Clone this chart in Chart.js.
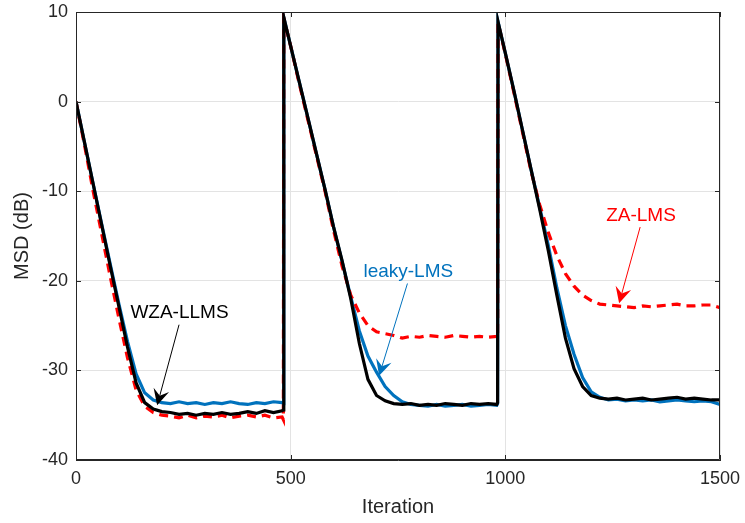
<!DOCTYPE html>
<html>
<head>
<meta charset="utf-8">
<script src="https://cdn.jsdelivr.net/npm/chart.js@4.4.0/dist/chart.umd.min.js"></script>
<style>
  html, body { margin: 0; padding: 0; background: #fff; }
</style>
</head>
<body>
<canvas id="chart" width="745" height="523"></canvas>
<script>
// iteration index shared by all three curves (jumps at 483/484 and 982/983)
const iterations = [
  0, 20, 40, 60, 80, 100, 120, 140, 160, 180, 200, 220, 240, 260, 280, 300, 320, 340, 360, 380, 400, 420, 440, 460, 480, 483,
  484, 500, 520, 540, 560, 580, 600, 620, 640, 660, 680, 700, 720, 740, 760, 780, 800, 820, 840, 860, 880, 900, 920, 940, 960, 980, 982,
  983, 1000, 1020, 1040, 1060, 1080, 1100, 1120, 1140, 1160, 1180, 1200, 1220, 1240, 1260, 1280, 1300, 1320, 1340, 1360, 1380, 1400, 1420, 1440, 1460, 1480, 1500
];

const wzaLlms = [
  0, -4.6, -9.2, -13.8, -18.4, -22.9, -27.4, -31.4, -33.6, -34.3, -34.6, -34.7, -34.9, -34.8, -35.0, -34.8, -34.9, -34.7, -34.9, -34.8, -34.6, -34.8, -34.5, -34.7, -34.5, -34.4,
  9.4, 6.2, 2.2, -1.8, -5.8, -9.8, -14.0, -17.8, -22.0, -27.0, -31.0, -32.8, -33.4, -33.7, -33.8, -33.7, -33.9, -33.8, -33.9, -33.7, -33.8, -33.9, -33.7, -33.8, -33.7, -33.8, -33.6,
  8.9, 5.4, 1.2, -3.2, -7.6, -12.0, -16.6, -21.6, -26.4, -29.8, -31.8, -32.8, -33.1, -33.2, -33.1, -33.3, -33.2, -33.1, -33.3, -33.2, -33.1, -33.0, -33.2, -33.1, -33.2, -33.3, -33.3
];

const zaLms = [
  0, -4.9, -10.0, -14.8, -19.6, -24.2, -28.6, -32.2, -34.0, -34.7, -35.0, -35.1, -35.3, -35.0, -35.3, -35.1, -35.2, -35.0, -35.3, -35.1, -35.0, -35.2, -35.0, -35.3, -35.2, -35.5,
  9.3, 6.2, 2.0, -2.0, -6.0, -10.0, -14.4, -18.4, -21.6, -23.6, -25.0, -25.7, -25.9, -26.1, -26.4, -26.2, -26.3, -26.1, -26.2, -26.3, -26.1, -26.2, -26.3, -26.2, -26.3, -26.2, -26.4,
  8.8, 5.3, 1.0, -3.4, -7.8, -11.5, -14.6, -17.2, -19.2, -20.6, -21.6, -22.2, -22.6, -22.7, -22.8, -22.9, -23.0, -22.8, -22.9, -22.8, -22.7, -22.6, -22.8, -22.8, -22.7, -22.7, -23.0
];

const leakyLms = [
  0, -4.6, -9.2, -13.7, -18.2, -22.6, -26.8, -30.4, -32.5, -33.3, -33.6, -33.7, -33.5, -33.7, -33.6, -33.8, -33.6, -33.7, -33.5, -33.7, -33.8, -33.6, -33.7, -33.5, -33.6, -33.7,
  9.4, 6.2, 2.2, -1.8, -5.8, -9.8, -14.0, -17.9, -21.8, -25.6, -28.4, -30.2, -31.8, -32.8, -33.5, -33.8, -33.9, -34.0, -33.8, -34.0, -33.9, -33.8, -34.0, -33.9, -33.8, -33.9, -33.7,
  8.9, 5.4, 1.2, -3.2, -7.6, -11.8, -16.0, -20.8, -25.0, -28.2, -30.8, -32.4, -33.0, -33.3, -33.2, -33.4, -33.3, -33.4, -33.3, -33.5, -33.4, -33.3, -33.4, -33.5, -33.4, -33.5, -33.8
];

const xTickValues = [0, 500, 1000, 1500];
const yTickValues = [-40, -30, -20, -10, 0, 10];

// text labels with arrows, in data coordinates
const callouts = [
  { text: "WZA-LLMS", color: "#000000", at: [241, -23.6], from: [240, -24.9], to: [189, -33.9] },
  { text: "leaky-LMS", color: "#0072BD", at: [774, -19.0], from: [772, -20.3], to: [706, -30.6] },
  { text: "ZA-LMS", color: "#FF0000", at: [1316, -12.7], from: [1314, -14.0], to: [1265, -22.5] }
];

const FONT = "'Liberation Sans', Arial, Helvetica, sans-serif";
const AXIS_COLOR = "#262626";

const toPoints = (ys) => iterations.map((x, i) => ({ x: x, y: ys[i] }));

const boxPlugin = {
  id: "box",
  afterDatasetsDraw(chart) {
    const { ctx, chartArea: a, scales } = chart;
    ctx.save();
    ctx.strokeStyle = AXIS_COLOR;
    ctx.lineWidth = 1;
    ctx.beginPath();
    ctx.rect(a.left + 0.5, a.top + 0.5, a.right - a.left - 1, a.bottom - a.top - 1);
    ctx.stroke();
    // inward ticks on all four sides
    const len = 5;
    ctx.beginPath();
    xTickValues.forEach((v) => {
      const px = Math.round(scales.x.getPixelForValue(v)) + 0.5;
      ctx.moveTo(px, a.bottom); ctx.lineTo(px, a.bottom - len);
      ctx.moveTo(px, a.top); ctx.lineTo(px, a.top + len);
    });
    yTickValues.forEach((v) => {
      const py = Math.round(scales.y.getPixelForValue(v)) + 0.5;
      ctx.moveTo(a.left, py); ctx.lineTo(a.left + len, py);
      ctx.moveTo(a.right, py); ctx.lineTo(a.right - len, py);
    });
    ctx.stroke();

    // callouts
    callouts.forEach((c) => {
      const tx = scales.x.getPixelForValue(c.at[0]);
      const ty = scales.y.getPixelForValue(c.at[1]);
      ctx.fillStyle = c.color;
      ctx.font = "19px " + FONT;
      ctx.textAlign = "center";
      ctx.textBaseline = "middle";
      ctx.fillText(c.text, tx, ty);

      const x0 = scales.x.getPixelForValue(c.from[0]);
      const y0 = scales.y.getPixelForValue(c.from[1]);
      const x1 = scales.x.getPixelForValue(c.to[0]);
      const y1 = scales.y.getPixelForValue(c.to[1]);
      const ang = Math.atan2(y1 - y0, x1 - x0);
      const headLen = 16, headW = 8, back = 10;
      ctx.strokeStyle = c.color;
      ctx.lineWidth = 1;
      ctx.beginPath();
      ctx.moveTo(x0, y0);
      ctx.lineTo(x1 - Math.cos(ang) * back, y1 - Math.sin(ang) * back);
      ctx.stroke();
      const bx = x1 - Math.cos(ang) * headLen;
      const by = y1 - Math.sin(ang) * headLen;
      const nx = -Math.sin(ang), ny = Math.cos(ang);
      ctx.beginPath();
      ctx.moveTo(x1, y1);
      ctx.lineTo(bx + nx * headW, by + ny * headW);
      ctx.lineTo(x1 - Math.cos(ang) * back, y1 - Math.sin(ang) * back);
      ctx.lineTo(bx - nx * headW, by - ny * headW);
      ctx.closePath();
      ctx.fillStyle = c.color;
      ctx.fill();
    });
    ctx.restore();
  }
};

new Chart(document.getElementById("chart"), {
  type: "line",
  data: {
    datasets: [
      {
        label: "WZA-LLMS",
        data: toPoints(wzaLlms),
        borderColor: "#000000",
        borderWidth: 3.2,
        pointRadius: 0,
        tension: 0,
      },
      {
        label: "ZA-LMS",
        data: toPoints(zaLms),
        borderColor: "#FF0000",
        borderWidth: 3.2,
        borderDash: [9, 6],
        pointRadius: 0,
        tension: 0,
      },
      {
        label: "leaky-LMS",
        data: toPoints(leakyLms),
        borderColor: "#0072BD",
        borderWidth: 3.2,
        pointRadius: 0,
        tension: 0,
      },
    ],
  },
  options: {
    responsive: false,
    animation: false,
    devicePixelRatio: 1,
    layout: { padding: { top: 12, right: 25, left: 0, bottom: 0 } },
    plugins: {
      legend: { display: false },
      tooltip: { enabled: false },
    },
    scales: {
      x: {
        type: "linear",
        min: 0,
        max: 1500,
        afterBuildTicks: (scale) => { scale.ticks = xTickValues.map((v) => ({ value: v })); },
        afterFit: (scale) => {
          scale.height = 63;
          scale.paddingLeft = 0;
          scale.paddingRight = 0;
        },
        ticks: { color: AXIS_COLOR, font: { size: 18, family: FONT }, padding: 8, maxRotation: 0, callback: (v) => String(v) },
        grid: { color: "#e3e3e3", drawTicks: false },
        border: { color: AXIS_COLOR },
        title: { display: true, text: "Iteration", color: AXIS_COLOR, font: { size: 20, family: FONT }, padding: { top: 0, bottom: 4 } },
      },
      y: {
        type: "linear",
        min: -40,
        max: 10,
        afterBuildTicks: (scale) => { scale.ticks = yTickValues.map((v) => ({ value: v })); },
        afterFit: (scale) => {
          scale.width = 76;
          scale.paddingTop = 0;
          scale.paddingBottom = 0;
        },
        ticks: { color: AXIS_COLOR, font: { size: 18, family: FONT }, padding: 8, callback: (v) => String(v) },
        grid: { color: "#e3e3e3", drawTicks: false },
        border: { color: AXIS_COLOR },
        title: { display: true, text: "MSD (dB)", color: AXIS_COLOR, font: { size: 20, family: FONT }, padding: { top: 10, bottom: 0 } },
      },
    },
  },
  plugins: [boxPlugin],
});
</script>
</body>
</html>
